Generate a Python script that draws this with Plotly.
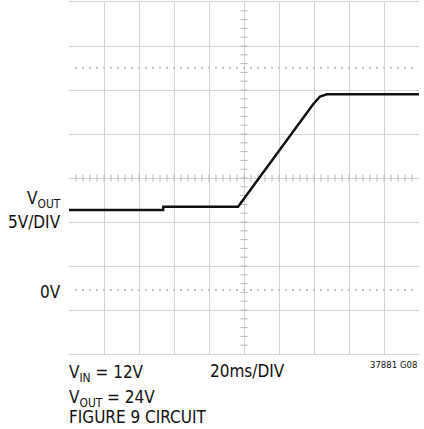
import numpy as np
import plotly.graph_objects as go

# ---- data (time in ms, voltage in V) ----
time_ms = [0, 53.8, 53.9, 96.6, 139.4, 143.4, 147.4, 200]
vout_v = [9.09, 9.09, 9.45, 9.45, 21.09, 21.99, 22.24, 22.24]

# scope settings
x_range = [0, 200]          # 20ms/DIV, 10 divisions
v_per_div = 5
y_bottom = -7.2727
y_range = [y_bottom, y_bottom + 8 * v_per_div]
marker_levels = [0, 25.26]  # dotted reference levels

FONT = "DejaVu Sans Condensed, Liberation Sans Narrow, sans-serif"
GRID = "#d4d4d4"
TICKC = "#b8b8b8"

fig = go.Figure()

x_center = (x_range[0] + x_range[1]) / 2
y_center = (y_range[0] + y_range[1]) / 2

# dotted reference levels
dots_x = np.arange(x_range[0] + 4, x_range[1], 4)
for lvl in marker_levels:
    fig.add_trace(go.Scatter(x=dots_x, y=[lvl] * len(dots_x), mode="markers",
                             marker=dict(symbol="square", size=2, color="#c4c4c4",
                                         line=dict(width=0)),
                             hoverinfo="skip", showlegend=False))

# center cross minor ticks
fig.add_trace(go.Scatter(x=dots_x, y=[y_center] * len(dots_x), mode="markers",
                         marker=dict(symbol="line-ns-open", size=5, color=TICKC,
                                     line=dict(color=TICKC, width=1)),
                         hoverinfo="skip", showlegend=False))
ticks_y = np.arange(y_range[0] + 1, y_range[1], 1)
fig.add_trace(go.Scatter(x=[x_center] * len(ticks_y), y=ticks_y, mode="markers",
                         marker=dict(symbol="line-ew-open", size=5, color=TICKC,
                                     line=dict(color=TICKC, width=1)),
                         hoverinfo="skip", showlegend=False))

# trace
fig.add_trace(go.Scatter(x=time_ms, y=vout_v, mode="lines",
                         line=dict(color="#111111", width=2.5),
                         hoverinfo="skip", showlegend=False))

fig.update_xaxes(range=x_range, tickvals=list(range(20, 200, 20)),
                 showticklabels=False, ticks="", showgrid=True, gridcolor=GRID,
                 gridwidth=1, zeroline=False, showline=True, mirror=True,
                 linecolor=GRID, linewidth=1)
fig.update_yaxes(range=y_range,
                 tickvals=[y_bottom + v_per_div * k for k in range(1, 8)],
                 showticklabels=False, ticks="", showgrid=True, gridcolor=GRID,
                 gridwidth=1, zeroline=False, showline=False)

ann = []
lbl = dict(size=17, color="#111111", family=FONT)
ann.append(dict(text="V<sub>OUT</sub>", xref="paper", yref="y", x=0, y=10.25,
                xanchor="right", yanchor="middle", xshift=-6, showarrow=False, font=lbl))
ann.append(dict(text="5V/DIV", xref="paper", yref="y", x=0, y=7.75,
                xanchor="right", yanchor="middle", xshift=-6, showarrow=False, font=lbl))
ann.append(dict(text="0V", xref="paper", yref="y", x=0, y=-0.17,
                xanchor="right", yanchor="middle", xshift=-6, showarrow=False, font=lbl))

ann.append(dict(text="V<sub>IN</sub> = 12V", xref="paper", yref="paper", x=-0.005, y=-0.054,
                xanchor="left", yanchor="middle", showarrow=False, font=lbl))
ann.append(dict(text="20ms/DIV", xref="paper", yref="paper", x=0.398, y=-0.049,
                xanchor="left", yanchor="middle", showarrow=False, font=lbl))
ann.append(dict(text="V<sub>OUT</sub> = 24V", xref="paper", yref="paper", x=-0.005, y=-0.127,
                xanchor="left", yanchor="middle", showarrow=False, font=lbl))
ann.append(dict(text="FIGURE 9 CIRCUIT", xref="paper", yref="paper", x=-0.005, y=-0.18,
                xanchor="left", yanchor="middle", showarrow=False, font=lbl))
ann.append(dict(text="37881 G08", xref="paper", yref="paper", x=1, y=-0.031,
                xanchor="right", yanchor="middle", showarrow=False,
                font=dict(size=9.5, color="#111111", family=FONT)))

fig.update_layout(width=424, height=429, margin=dict(l=69, r=5, t=2, b=75),
                  paper_bgcolor="white", plot_bgcolor="white", annotations=ann)

fig.write_html("out.html", config={"displayModeBar": False},
               post_script="document.body.style.margin='0';")
